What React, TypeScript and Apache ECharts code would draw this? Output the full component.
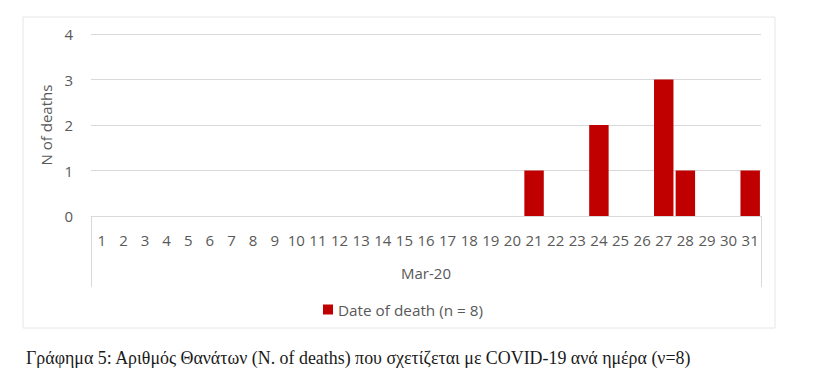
import React, { useEffect, useRef } from "react";
import * as echarts from "echarts";

const days: string[] = Array.from({ length: 31 }, (_, i) => String(i + 1));
const deaths: number[] = [
  0, 0, 0, 0, 0, 0, 0, 0, 0, 0,
  0, 0, 0, 0, 0, 0, 0, 0, 0, 0,
  1, 0, 0, 2, 0, 0, 3, 1, 0, 0, 1,
];
const monthGroup: string[] = ["Mar-20"];
const seriesName = "Date of death (n = 8)";
const yAxisName = "N of deaths";
const caption =
  "Γράφημα 5: Αριθμός Θανάτων (N. of deaths) που σχετίζεται με COVID-19 ανά ημέρα (ν=8)";

export default function App() {
  const ref = useRef<HTMLDivElement>(null);
  useEffect(() => {
    if (!ref.current) return;
    const chart = echarts.init(ref.current, undefined, { renderer: "svg" });
    const gray = "#595959";
    const font = "Open Sans";
    chart.setOption({
      animation: false,
      backgroundColor: "#ffffff",
      title: {
        text: caption,
        left: 21,
        top: 344,
        textStyle: {
          fontFamily: "Liberation Serif",
          fontSize: 17.9,
          fontWeight: "normal",
          color: "#1a1a1a",
        },
      },
      graphic: [
        {
          type: "rect",
          shape: { x: 23, y: 17, width: 752, height: 311 },
          style: { fill: "none", stroke: "#e6e6e6", lineWidth: 1 },
          silent: true,
        },
      ],
      legend: {
        left: 318,
        top: 297,
        itemWidth: 10,
        itemHeight: 10,
        itemGap: 10,
        icon: "rect",
        textStyle: { fontFamily: font, fontSize: 15.3, color: gray },
        data: [seriesName],
      },
      grid: { left: 91, right: 67, top: 34, bottom: 171, containLabel: false },
      xAxis: [
        {
          type: "category",
          data: days,
          position: "bottom",
          axisLine: { show: true, lineStyle: { color: "#d9d9d9" } },
          axisTick: { show: false },
          axisLabel: {
            interval: 0,
            margin: 16,
            fontFamily: font,
            fontSize: 15,
            color: gray,
          },
        },
        {
          type: "category",
          data: monthGroup,
          position: "bottom",
          boundaryGap: true,
          axisLine: { show: false },
          axisTick: {
            show: true,
            length: 71,
            lineStyle: { color: "#d9d9d9" },
          },
          axisLabel: {
            margin: 49,
            fontFamily: font,
            fontSize: 15,
            color: gray,
          },
        },
      ],
      yAxis: {
        type: "value",
        min: 0,
        max: 4,
        interval: 1,
        name: yAxisName,
        nameLocation: "middle",
        nameGap: 38,
        nameTextStyle: { fontFamily: font, fontSize: 15, color: gray },
        axisLine: { show: false },
        axisTick: { show: false },
        splitLine: { lineStyle: { color: "#d9d9d9" } },
        axisLabel: { margin: 18, fontFamily: font, fontSize: 15, color: gray },
      },
      series: [
        {
          name: seriesName,
          type: "bar",
          xAxisIndex: 0,
          data: deaths,
          barCategoryGap: "10%",
          itemStyle: { color: "#C00000" },
        },
      ],
    });
    return () => chart.dispose();
  }, []);
  return (
    <div
      ref={ref}
      style={{ position: "fixed", left: 0, top: 0, width: 828, height: 387 }}
    />
  );
}
